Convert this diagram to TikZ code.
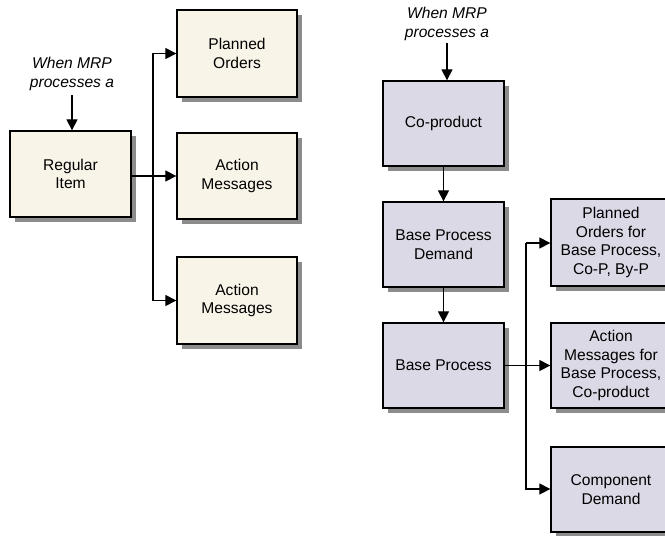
\documentclass[tikz,border=0pt]{standalone}
\usepackage{fontspec}
\setmainfont{Liberation Sans}
\usetikzlibrary{arrows.meta,shadows}
\definecolor{cream}{HTML}{F8F4E8}
\definecolor{lav}{HTML}{DCD9E6}
\definecolor{shad}{HTML}{8C8C8C}
\begin{document}
\begin{tikzpicture}[x=1pt,y=-1pt,
  box/.style={draw=black,line width=1.3pt,align=center,font=\fontsize{15.6}{18.5}\selectfont,
    inner sep=0pt,drop shadow={shadow xshift=5pt,shadow yshift=-5pt,fill=shad,opacity=1}},
  cbox/.style={box,fill=cream},
  lbox/.style={box,fill=lav},
  lbl/.style={align=center,font=\fontsize{15.6}{18.5}\selectfont\itshape,inner sep=0pt},
  arr/.style={draw=black,line width=1.2pt,-{Triangle[length=11pt,width=11pt]}},
  ln/.style={draw=black,line width=1.2pt}]
\useasboundingbox (0,0) rectangle (665,536);
\clip (0,0) rectangle (665,536);
% left
\node[lbl] (w1) at (72,74) {When MRP\\processes a};
\node[cbox,minimum width=121pt,minimum height=86pt] (ri) at (70.5,174) {Regular\\Item};
\node[cbox,minimum width=120pt,minimum height=87pt] (po) at (237,53.5) {Planned\\Orders};
\node[cbox,minimum width=120pt,minimum height=86pt] (am1) at (237,176) {Action\\Messages};
\node[cbox,minimum width=120pt,minimum height=87pt] (am2) at (237,300.5) {Action\\Messages};
\coordinate (w1a) at (72,95);
\draw[arr] (w1a) -- (ri.north -| w1a);
\coordinate (j1) at (153,176);
\draw[ln] (ri.east |- j1) -- (j1);
\draw[arr] (j1) -- (am1.west |- j1);
\draw[arr] (j1) |- (po.west);
\draw[arr] (j1) |- (am2.west);
% right
\node[lbl] (w2) at (447,24) {When MRP\\processes a};
\node[lbox,minimum width=121pt,minimum height=85pt] (cp) at (443.5,123.5) {Co-product};
\node[lbox,minimum width=121pt,minimum height=85pt] (bpd) at (443.5,244.5) {Base Process\\Demand};
\node[lbox,minimum width=121pt,minimum height=85pt] (bp) at (443.5,365.5) {Base Process};
\node[lbox,minimum width=120pt,minimum height=87pt] (pob) at (611,242.5) {Planned\\Orders for\\Base Process,\\Co-P, By-P};
\node[lbox,minimum width=120pt,minimum height=85pt] (amb) at (611,365.5) {Action\\Messages for\\Base Process,\\Co-product};
\node[lbox,minimum width=120pt,minimum height=85pt] (cd) at (611,489.5) {Component\\Demand};
\coordinate (w2a) at (447,43);
\draw[arr] (w2a) -- (cp.north -| w2a);
\draw[arr] (cp) -- (bpd);
\draw[arr] (bpd) -- (bp);
\coordinate (j2) at (526,365.5);
\draw[ln] (bp.east) -- (j2);
\draw[arr] (j2) -- (amb.west |- j2);
\draw[arr] (j2 |- 0,243) -- (pob.west |- 0,243);
\draw[arr] (j2 |- 0,243) -- (j2 |- 0,489) -- (cd.west |- 0,489);
\end{tikzpicture}
\end{document}
